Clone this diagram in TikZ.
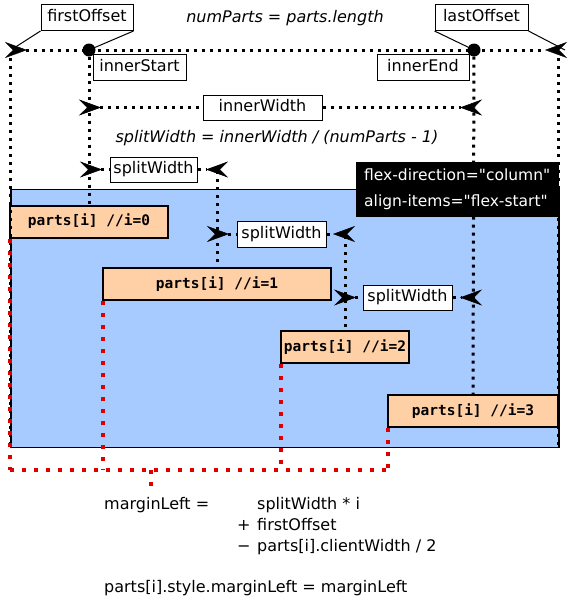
\documentclass[tikz,border=0pt]{standalone}
\usepackage{fontspec}
\setmainfont{DejaVu Sans}[ItalicFont={DejaVu Sans Oblique},BoldFont={DejaVu Sans Bold}]
\setmonofont{DejaVu Sans Mono}[BoldFont={DejaVu Sans Mono Bold}]
% same face without the TeX quote mapping, so " stays straight
\newfontfamily\notefont{DejaVu Sans}[Ligatures=TeXOff]
\usetikzlibrary{arrows.meta}

\definecolor{panelblue}{RGB}{168,203,255}
\definecolor{partfill}{RGB}{255,207,166}
\definecolor{guidered}{RGB}{222,0,0}

\tikzset{
  dimtip/.tip={Stealth[reversed,length=22pt,width=16pt,inset=8pt,line width=0.5pt]},
  txt/.style={inner sep=0pt,font=\fontsize{16}{19}\selectfont},
  formula/.style={inner sep=0pt,font=\itshape\fontsize{16}{19}\selectfont},
  lbl/.style={draw=black,line width=1pt,fill=white,inner sep=0pt,minimum height=26pt,
    text height=12pt,text depth=3.5pt,font=\fontsize{16}{19}\selectfont},
  partbox/.style={draw=black,line width=2pt,fill=partfill,inner sep=0pt,minimum height=32pt,
    text height=11pt,text depth=3pt,font=\ttfamily\bfseries\fontsize{14.5}{17}\selectfont},
  dot/.style={circle,fill=black,inner sep=0pt,minimum size=13pt},
  guide/.style={line width=3pt,dash pattern=on 3pt off 5pt},
  redguide/.style={draw=guidered,line width=4pt,dash pattern=on 4pt off 8pt},
  leader/.style={line width=1pt},
}

\begin{document}
\begin{tikzpicture}[x=1pt,y=-1pt]
\useasboundingbox (0,0) rectangle (570,600);

% flex container
\node[draw=black,line width=1.5pt,fill=panelblue,anchor=north west,inner sep=0pt,
  minimum width=548pt,minimum height=258pt] (panel) at (10,188.5) {};

% part boxes
\node[partbox,minimum width=158pt] (p0) at (89,221.5) {parts[i] //i=0};
\node[partbox,minimum width=228pt] (p1) at (217,284) {parts[i] //i=1};
\node[partbox,minimum width=128pt] (p2) at (345,347) {parts[i] //i=2};
\node[partbox,minimum width=170pt] (p3) at (473,411) {parts[i] //i=3};

% outer dimension line
\coordinate (topL) at (5,50);
\coordinate (topR) at (567,50);
\node[dot] (dotA) at (89,50) {};
\node[dot] (dotB) at (474,50) {};
\draw[guide,dimtip-dimtip] (topL) -- (topR);

% vertical guides
\coordinate (edgeLtop) at (10,58);
\coordinate (edgeLbot) at (10,447);
\coordinate (edgeRtop) at (558,58);
\coordinate (edgeRbot) at (558,447);
\coordinate (s1top) at (217,171);
\coordinate (s2top) at (345,236);
\draw[guide] (edgeLtop) -- (edgeLbot);
\draw[guide] (edgeRtop) -- (edgeRbot);
\draw[guide] (dotA) -- (p0.north);
\draw[guide] (dotB) -- (p3.north);
\draw[guide] (s1top) -- (p1.north);
\draw[guide] (s2top) -- (p2.north);

% flex properties note
\node[fill=black,text=white,anchor=north west,inner xsep=7pt,inner ysep=0pt,
  minimum width=203pt,minimum height=55pt,align=left,
  font=\notefont\fontsize{15.5}{26}\selectfont] (flexnote) at (355.5,162)
  {flex-direction="column"\\align-items="flex-start"};

% top labels
\node[lbl,minimum width=92pt] (firstoff) at (87,17.5) {firstOffset};
\node[lbl,minimum width=93pt] (lastoff) at (481.5,17.5) {lastOffset};
\node[formula] (numparts) at (285,18) {numParts = parts.length};
\coordinate (ldrL) at (14,48);
\coordinate (ldrR) at (565,50);
\draw[leader] (firstoff.south west) -- (ldrL);
\draw[leader] (firstoff.south east) -- (dotA);
\draw[leader] (lastoff.south west) -- (dotB);
\draw[leader] (lastoff.south east) -- (ldrR);

\node[lbl,minimum width=93pt] (innerstart) at (139.5,67) {innerStart};
\node[lbl,minimum width=92pt] (innerend) at (423,67) {innerEnd};

% inner width
\node[lbl,minimum width=119pt,minimum height=25pt] (innerwidth) at (262.5,107.5) {innerWidth};
\coordinate (iwL) at (79,107.5);
\coordinate (iwR) at (482,107.5);
\draw[guide,dimtip-] (iwL) -- (innerwidth.west);
\draw[guide,-dimtip] (innerwidth.east) -- (iwR);

\node[formula] (splitformula) at (277,138) {splitWidth = innerWidth / (numParts - 1)};

% split widths
\node[lbl,minimum width=87pt,minimum height=25pt] (split1) at (153.5,169.5) {splitWidth};
\coordinate (s1L) at (80,169.5);
\coordinate (s1R) at (228,169.5);
\draw[guide,dimtip-] (s1L) -- (split1.west);
\draw[guide,-dimtip] (split1.east) -- (s1R);

\node[lbl,minimum width=89pt,minimum height=26pt] (split2) at (281.5,234) {splitWidth};
\coordinate (s2L) at (207,234);
\coordinate (s2R) at (355,234);
\draw[guide,dimtip-] (s2L) -- (split2.west);
\draw[guide,-dimtip] (split2.east) -- (s2R);

\node[lbl,minimum width=89pt,minimum height=25pt] (split3) at (407.5,297.5) {splitWidth};
\coordinate (s3L) at (334,297.5);
\coordinate (s3R) at (482,297.5);
\draw[guide,dimtip-] (s3L) -- (split3.west);
\draw[guide,-dimtip] (split3.east) -- (s3R);

% margin guides
\coordinate (r0) at (10,470);
\coordinate (r1) at (103,470);
\coordinate (r2) at (281,470);
\coordinate (r3) at (388,470);
\coordinate (rmid) at (151,470);
\coordinate (rstub) at (151,487);
\draw[redguide] (r0 |- p0.south) -- (r0);
\draw[redguide] (r1 |- p1.south) -- (r1);
\draw[redguide] (r2 |- p2.south) -- (r2);
\draw[redguide] (r3 |- p3.south) -- (r3);
\draw[redguide] (r0) -- (r3);
\draw[redguide] (rmid) -- (rstub);

% formulas
\node[txt,anchor=base west] (mlhs) at (104,509) {marginLeft =};
\node[txt,anchor=base west] (term1) at (257,509) {splitWidth * i};
\node[txt,anchor=base west] (op2) at (237,530) {+};
\node[txt,anchor=base west] (term2) at (257,530) {firstOffset};
\node[txt,anchor=base west] (op3) at (237,551) {−};
\node[txt,anchor=base west] (term3) at (257,551) {parts[i].clientWidth / 2};
\node[txt,anchor=base west] (assign) at (104,592) {parts[i].style.marginLeft = marginLeft};
\end{tikzpicture}
\end{document}
